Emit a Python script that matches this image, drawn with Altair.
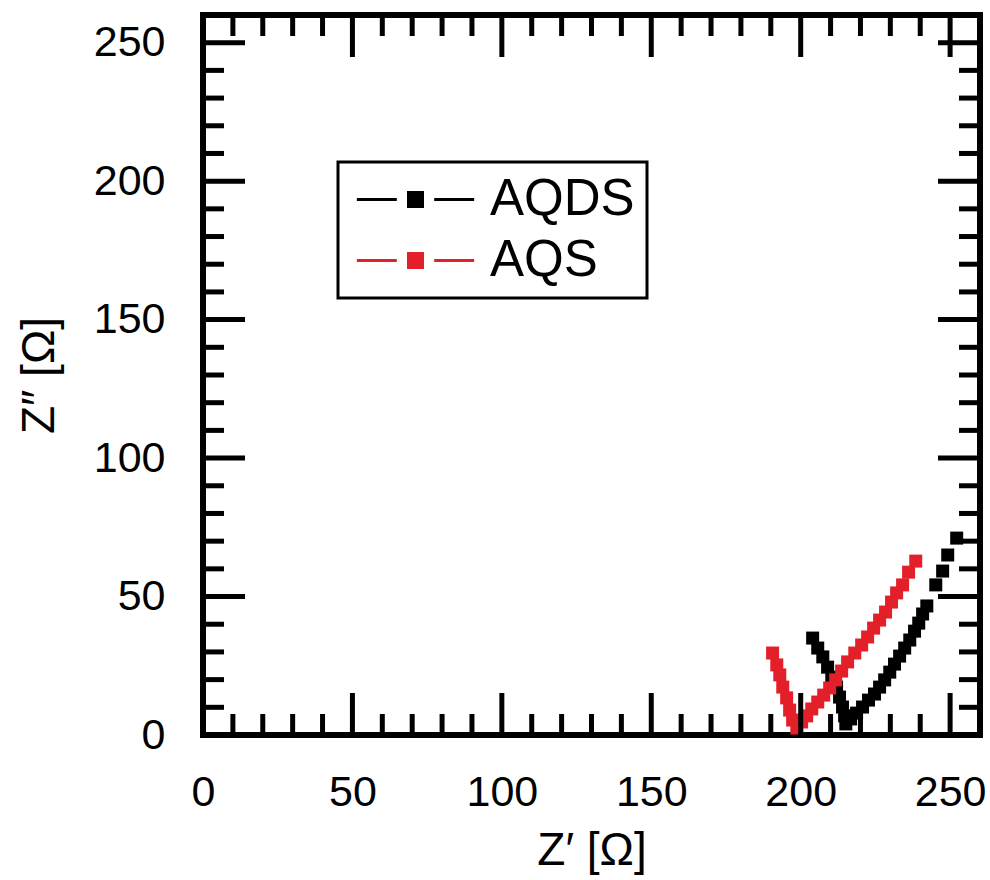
import altair as alt
import pandas as pd

# ---- data ----
series_names = ["AQDS", "AQS"]
series_colors = ["#000000", "#e3202a"]

aqds_x = [204.0, 205.7, 207.4, 209.0, 210.4, 212.0, 213.0, 214.0, 214.7, 215.1,
          216.7, 218.7, 220.7, 222.7, 224.7, 226.4, 228.1, 229.8, 231.4, 233.1,
          234.8, 236.5, 238.1, 239.5, 240.8, 242.2, 245.2, 247.5, 249.2, 252.2]
aqds_y = [35.0, 31.4, 28.2, 24.5, 20.9, 17.3, 13.7, 10.1, 6.9, 4.0,
          5.8, 7.9, 10.1, 12.6, 14.8, 17.3, 19.9, 22.7, 25.6, 28.5,
          31.4, 34.3, 37.5, 40.4, 43.7, 46.6, 54.2, 59.2, 65.0, 71.1]

aqs_x = [190.6, 192.0, 193.0, 194.0, 195.3, 196.3, 197.3, 198.7, 200.3, 202.0,
         203.7, 205.7, 207.7, 209.7, 211.7, 213.7, 215.7, 218.1, 220.4, 222.4,
         224.4, 226.4, 228.4, 230.4, 232.1, 234.1, 236.1, 238.5]
aqs_y = [29.6, 25.3, 21.7, 17.3, 13.4, 9.0, 5.4, 2.5, 4.7, 6.9,
         9.4, 11.9, 14.4, 17.0, 19.9, 23.1, 26.4, 29.6, 32.5, 35.4,
         38.6, 41.5, 44.4, 48.0, 51.3, 54.2, 58.8, 62.8]

tick_labels = [0, 50, 100, 150, 200, 250]
minor_ticks = [v for v in range(10, 260, 10) if v % 50 != 0]
major_ticks = [50, 100, 150, 200, 250]

# ---- tables ----
rows = [{"x": x, "y": y, "series": "AQDS"} for x, y in zip(aqds_x, aqds_y)]
rows += [{"x": x, "y": y, "series": "AQS"} for x, y in zip(aqs_x, aqs_y)]
df = pd.DataFrame(rows)

W, H = 777, 720
DOMAIN = [0, 260]
FONT = "Liberation Sans"

xs = alt.Scale(domain=DOMAIN, nice=False, zero=False)
ys = alt.Scale(domain=DOMAIN, nice=False, zero=False)

x_axis = alt.Axis(values=tick_labels, title="Z′ [Ω]", ticks=False, tickSize=0,
                  domain=False, grid=False, labelPadding=36, titlePadding=14,
                  labelFontSize=43, titleFontSize=46, labelFont=FONT, titleFont=FONT,
                  labelColor="black", titleColor="black", titleFontWeight="normal",
                  labelFlush=False)
y_axis = alt.Axis(values=tick_labels, title="Z″ [Ω]", ticks=False, tickSize=0,
                  domain=False, grid=False, labelPadding=38, titlePadding=30,
                  labelFontSize=43, titleFontSize=46, labelFont=FONT, titleFont=FONT,
                  labelColor="black", titleColor="black", titleFontWeight="normal",
                  labelFlush=False)

# legend symbol: line - square - line (unit = half the square side)
legend_path = ("M-6.9,-0.18H-2.2V0.18H-6.9Z "
               "M-1,-1H1V1H-1Z "
               "M2.2,-0.18H6.9V0.18H2.2Z")

points = alt.Chart(df).mark_square(filled=True, size=169, opacity=1, strokeWidth=0).encode(
    x=alt.X("x:Q", scale=xs, axis=x_axis),
    y=alt.Y("y:Q", scale=ys, axis=y_axis),
    color=alt.Color("series:N",
                    scale=alt.Scale(domain=series_names, range=series_colors),
                    title=None,
                    legend=alt.Legend(orient="none", legendX=135, legendY=147,
                                      symbolType=legend_path, symbolSize=289,
                                      symbolOffset=40,
                                      symbolStrokeWidth=0, labelFontSize=51,
                                      labelFont=FONT, labelColor="black",
                                      labelOffset=49, rowPadding=9, padding=12,
                                      strokeColor="black",
                                      fillColor="white")),
    order=alt.Order("series:N"),
)

tick_df_major = pd.DataFrame({"v": major_ticks})
tick_df_minor = pd.DataFrame({"v": minor_ticks})

def tick_layers(tdf, length):
    base = alt.Chart(tdf).mark_rule(color="black", strokeWidth=5)
    bottom = base.encode(x=alt.X("v:Q", scale=xs, axis=x_axis),
                         y=alt.value(H), y2=alt.value(H - length))
    top = base.encode(x=alt.X("v:Q", scale=xs, axis=x_axis),
                      y=alt.value(0), y2=alt.value(length))
    left = base.encode(y=alt.Y("v:Q", scale=ys, axis=y_axis),
                       x=alt.value(0), x2=alt.value(length))
    right = base.encode(y=alt.Y("v:Q", scale=ys, axis=y_axis),
                        x=alt.value(W), x2=alt.value(W - length))
    return [bottom, top, left, right]

layers = [points] + tick_layers(tick_df_minor, 21) + tick_layers(tick_df_major, 42)

chart = alt.layer(*layers).properties(
    width=W, height=H,
    autosize=alt.AutoSizeParams(type="none"),
    padding={"left": 203, "top": 15, "right": 10, "bottom": 145},
    background="white",
).configure_view(
    stroke="black", strokeWidth=6
).configure_legend(
    strokeWidth=3
)

chart.save("out.html", embed_options={"renderer": "svg", "actions": False})
